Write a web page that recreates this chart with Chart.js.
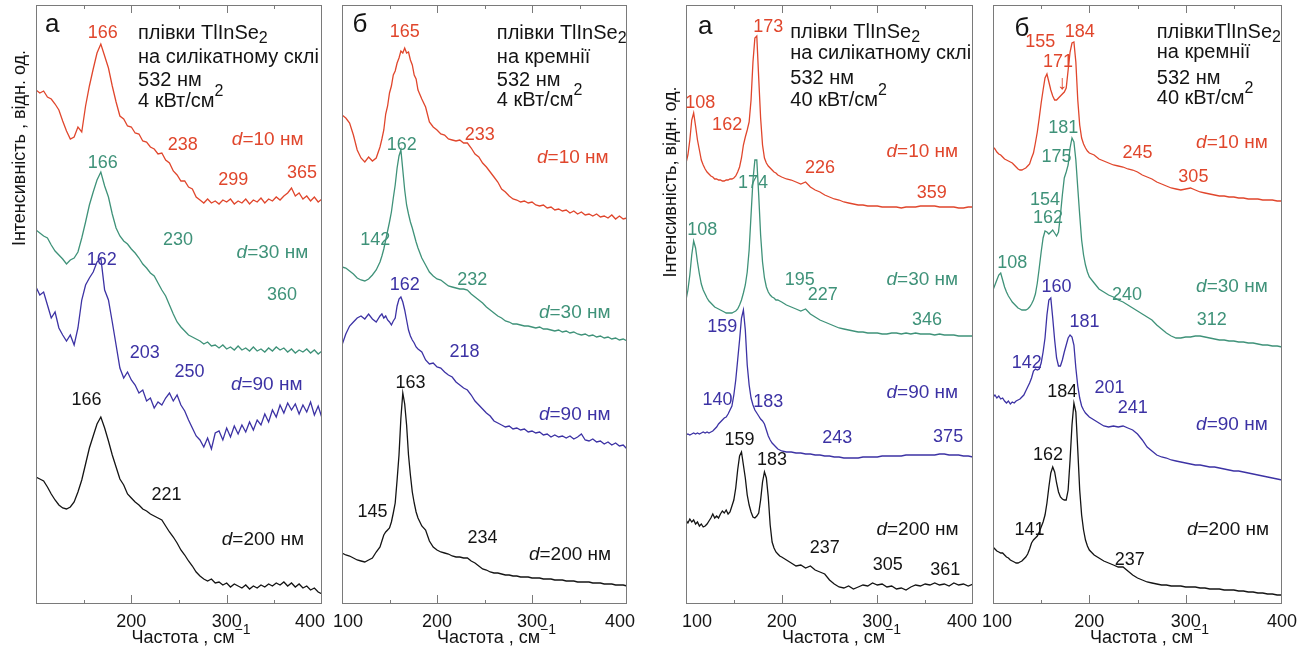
<!DOCTYPE html>
<html>
<head>
<meta charset="utf-8">
<script src="https://cdn.jsdelivr.net/npm/chart.js@4.4.1/dist/chart.umd.min.js"></script>
<style>
  html, body { margin: 0; padding: 0; background: #fff; overflow: hidden; }
  #wrap { position: relative; width: 1311px; height: 648px; }
  #wrap canvas { position: absolute; top: 0; }
</style>
</head>
<body>
<div id="wrap">
  <canvas id="p1" width="336" height="648" style="left:0px"></canvas>
  <canvas id="p2" width="315" height="648" style="left:325px"></canvas>
  <canvas id="p3" width="345" height="648" style="left:640px"></canvas>
  <canvas id="p4" width="336" height="648" style="left:975px"></canvas>
</div>
<script>
// Raman spectra of TlInSe2 films, four panels (arb. units)

// x grids, cm-1
const gridA = [100,104,108,112,116,120,124,128,132,136,140,144,148,152,156,160,164,168,172,176,180,184,188,192,196,200,204,208,212,216,220,224,228,232,236,240,244,248,252,256,260,264,268,272,276,280,284,288,292,296,300,304,308,312,316,320,324,328,332,336,340,344,348,352,356,360,364,368,372,376,380,384,388,392,396,400];
const gridB = [100,104,108,112,116,120,124,128,132,136,140,142,144,146,148,150,152,154,156,158,160,162,164,166,168,170,172,174,176,178,180,184,188,192,196,200,204,208,212,216,220,224,228,232,236,240,244,248,252,256,260,264,268,272,276,280,284,288,292,296,300,304,308,312,316,320,324,328,332,336,340,344,348,352,356,360,364,368,372,376,380,384,388,392,396,400];
const gridC = [100,102,104,106,108,110,112,114,116,118,120,122,124,126,128,130,132,134,136,138,140,142,144,146,148,150,152,154,156,158,160,162,164,166,168,170,172,174,176,178,180,182,184,186,188,190,192,194,196,198,200,205,210,215,220,225,230,235,240,245,250,255,260,265,270,275,280,285,290,295,300,305,310,315,320,325,330,335,340,345,350,355,360,365,370,375,380,385,390,395,400];

// panel а, 4 kW/cm2, glass
const p1_d10 = [514,511,513,507,505,500,494,483,473,465,467,477,472,498,518,535,551,560,548,536,518,502,488,485,478,477,471,470,463,462,457,455,450,451,444,441,433,429,423,423,417,415,407,404,401,405,401,403,400,404,402,405,400,403,401,405,400,404,402,406,401,405,403,407,404,408,411,416,408,411,405,408,403,407,402,405];
const p1_d30 = [374,371,368,366,359,353,349,345,340,344,346,352,366,382,399,412,424,432,418,407,390,376,368,363,360,355,351,346,340,336,331,328,321,314,308,299,290,282,277,273,269,267,265,263,260,262,258,259,256,259,255,257,254,258,254,256,253,257,253,255,252,256,253,257,254,256,252,255,251,254,252,255,251,254,250,253];
const p1_d90 = [317,309,312,299,286,292,276,269,263,269,259,276,304,319,326,332,342,346,314,304,282,259,236,226,232,224,219,211,214,203,206,196,202,199,206,211,203,209,199,193,184,176,168,164,157,166,155,171,173,164,176,167,178,170,179,172,182,174,184,179,190,182,194,187,199,191,201,194,200,190,199,192,202,189,198,186];
const p1_d200 = [127,125,123,117,110,104,99,96,95,97,102,112,124,140,156,168,180,187,176,163,149,137,125,119,110,106,102,99,95,93,90,88,86,84,78,72,67,61,54,49,43,38,32,28,25,23,25,21,22,19,21,17,20,18,16,19,15,18,16,19,17,20,18,21,19,22,18,21,17,20,16,18,14,16,12,10];

// panel б, 4 kW/cm2, silicon
const p2_d10 = [489,486,481,469,454,446,442,447,443,446,457,465,474,490,498,511,518,529,533,541,546,553,551,556,551,552,544,539,529,525,514,505,497,482,477,474,470,469,465,464,463,464,461,461,456,450,447,441,437,432,427,422,415,412,408,405,404,402,403,401,402,399,398,399,396,397,394,395,393,394,391,393,390,392,389,390,388,390,387,388,386,389,385,388,385,386];
const p2_d30 = [337,336,333,330,326,324,323,325,329,334,342,348,355,364,373,382,392,406,419,436,448,454,434,414,399,390,382,376,369,362,356,346,339,332,328,325,324,321,318,317,316,315,315,314,310,307,304,301,297,294,291,288,286,283,282,280,280,279,278,278,277,276,277,275,275,274,273,274,272,273,271,272,270,269,270,268,269,267,268,266,267,265,266,264,265,263];
const p2_d90 = [259,270,278,282,286,288,285,290,285,282,288,290,286,288,284,282,279,283,286,298,305,307,302,294,284,274,268,264,261,257,255,252,244,240,241,237,236,232,229,227,222,219,216,214,209,203,199,195,191,188,183,181,179,177,178,175,176,174,175,172,173,171,172,169,170,167,169,167,168,166,168,165,167,170,164,163,165,162,163,160,162,159,161,158,159,155];
const p2_d200 = [51,49,48,46,44,43,42,44,46,52,57,63,69,72,74,76,82,91,101,124,149,186,211,200,179,149,129,112,101,92,86,78,74,63,57,54,52,51,50,48,47,47,46,46,43,41,38,35,34,32,31,31,30,29,29,28,28,27,27,27,26,26,26,25,25,25,24,24,24,23,23,23,22,22,22,22,21,21,21,20,20,20,19,19,19,18];

// panel а, 40 kW/cm2, glass
const p3_d10 = [441,449,464,484,491,478,464,454,444,439,435,432,430,428,427,425,425,424,424,423,423,424,424,425,425,426,428,432,437,446,459,467,474,482,504,542,566,568,526,486,459,446,441,438,436,434,432,431,429,428,427,425,424,422,420,422,417,414,412,409,407,405,404,402,401,400,399,399,398,398,398,397,397,397,397,396,397,397,397,398,398,398,398,397,397,397,397,396,396,397,397];
const p3_d30 = [304,314,329,349,363,356,342,330,320,314,310,306,303,301,299,297,296,295,294,293,292,291,291,291,291,292,293,295,299,304,311,319,332,354,389,424,444,444,409,369,342,326,317,312,309,307,306,304,304,303,302,299,297,295,293,295,290,287,284,282,280,278,276,275,274,273,272,272,271,271,271,270,270,271,271,270,271,270,271,270,270,270,269,270,269,269,269,268,268,268,268];
const p3_d90 = [169,170,169,170,171,170,171,170,171,172,171,172,171,172,173,175,177,180,182,184,186,187,190,194,198,209,224,244,264,286,294,274,239,219,206,199,194,191,188,185,183,180,174,168,164,161,159,157,155,154,153,152,152,151,151,150,150,149,149,148,148,147,147,146,146,146,146,147,147,147,147,148,148,148,148,148,149,149,149,149,149,149,149,150,150,149,149,149,148,148,147];
const p3_d200 = [84,81,85,82,84,80,82,78,80,77,78,80,83,86,90,86,88,86,90,93,91,94,90,92,98,104,116,134,148,152,139,126,109,99,92,87,86,88,91,104,122,132,126,107,79,62,56,52,50,48,47,44,41,38,39,36,38,34,32,30,24,20,17,16,18,15,17,19,18,21,19,20,17,18,15,16,14,17,19,18,20,19,21,19,20,18,21,19,20,18,20];

// panel б, 40 kW/cm2, silicon
const p4_d10 = [457,455,452,450,449,447,445,444,443,442,441,439,437,435,434,434,435,436,438,440,446,451,461,472,486,501,514,526,530,522,514,508,504,504,506,508,510,512,516,534,552,561,562,542,504,479,466,460,456,453,451,449,445,443,441,439,438,437,435,434,432,429,427,425,422,420,418,416,415,414,415,416,414,412,411,410,409,408,408,407,407,406,406,405,405,405,404,404,404,403,403];
const p4_d30 = [314,319,324,329,331,324,317,312,308,305,302,300,298,296,295,294,294,294,295,297,300,304,310,321,336,352,366,373,372,370,372,374,371,368,372,389,409,426,432,439,456,466,462,444,416,389,364,349,339,332,327,321,315,312,309,307,304,302,299,296,293,290,287,284,279,275,271,268,266,266,267,267,268,268,267,266,265,264,264,263,263,262,262,261,261,260,259,259,258,258,257];
const p4_d90 = [207,209,206,208,205,206,203,201,203,200,202,201,203,204,205,207,209,213,217,221,226,233,235,234,235,241,252,266,289,304,306,286,264,246,238,238,244,252,259,266,269,267,259,236,218,206,198,194,191,189,187,184,181,178,177,178,177,178,176,174,170,164,157,153,149,147,146,144,143,142,141,140,139,139,138,137,137,136,135,134,133,133,132,131,130,129,128,127,126,125,124];
const p4_d200 = [57,55,53,52,51,51,49,47,46,44,43,42,41,41,42,43,45,47,50,55,61,64,66,68,72,77,82,89,101,117,131,137,132,121,112,107,105,104,104,114,144,179,201,192,154,114,89,74,64,58,54,49,46,43,41,39,37,37,33,29,26,24,22,21,20,19,19,18,18,18,17,17,17,16,16,15,15,15,14,14,14,13,13,12,12,11,11,10,10,9,9];

// peak labels: [text, x, y, colour, align, size]
const notes1 = [
  ['а', 117, 579, 'K', 'C', 26],
  ['166', 170, 571, 'R'],
  ['плівки TlInSe_2', 207, 571, 'K', 'L', 20],
  ['на силікатному склі', 207, 547, 'K', 'L', 20],
  ['532 нм', 207, 524, 'K', 'L', 20],
  ['4 кВт/см^2', 207, 503, 'K', 'L', 20],
  ['238', 254, 459, 'R'],
  ['*d*=10 нм', 343, 464, 'R', 'C', 19],
  ['299', 307, 424, 'R'],
  ['365', 379, 431, 'R'],
  ['166', 170, 441, 'G'],
  ['230', 249, 364, 'G'],
  ['*d*=30 нм', 348, 351, 'G', 'C', 19],
  ['360', 358, 309, 'G'],
  ['162', 169, 344, 'B'],
  ['203', 214, 251, 'B'],
  ['250', 261, 232, 'B'],
  ['*d*=90 нм', 342, 219, 'B', 'C', 19],
  ['166', 153, 204, 'K'],
  ['221', 237, 109, 'K'],
  ['*d*=200 нм', 338, 64, 'K', 'C', 19]
];
const notes2 = [
  ['б', 119, 579, 'K', 'C', 26],
  ['165', 166, 572, 'R'],
  ['плівки TlInSe_2', 263, 571, 'K', 'L', 20],
  ['на кремнії', 263, 547, 'K', 'L', 20],
  ['532 нм', 263, 524, 'K', 'L', 20],
  ['4 кВт/см^2', 263, 504, 'K', 'L', 20],
  ['233', 245, 469, 'R'],
  ['*d*=10 нм', 343, 446, 'R', 'C', 19],
  ['162', 163, 459, 'G'],
  ['142', 135, 364, 'G'],
  ['232', 237, 324, 'G'],
  ['*d*=30 нм', 345, 291, 'G', 'C', 19],
  ['162', 166, 319, 'B'],
  ['218', 229, 252, 'B'],
  ['*d*=90 нм', 345, 189, 'B', 'C', 19],
  ['163', 172, 221, 'K'],
  ['145', 132, 92, 'K'],
  ['234', 248, 66, 'K'],
  ['*d*=200 нм', 340, 49, 'K', 'C', 19]
];
const notes3 = [
  ['а', 120, 577, 'K', 'C', 26],
  ['173', 186, 577, 'R'],
  ['плівки TlInSe_2', 209, 572, 'K', 'L', 20],
  ['на силікатному склі', 209, 551, 'K', 'L', 20],
  ['532 нм', 209, 526, 'K', 'L', 20],
  ['40 кВт/см^2', 209, 504, 'K', 'L', 20],
  ['108', 115, 501, 'R'],
  ['162', 143, 479, 'R'],
  ['*d*=10 нм', 347, 452, 'R', 'C', 19],
  ['226', 240, 436, 'R'],
  ['359', 357, 411, 'R'],
  ['174', 170, 421, 'G'],
  ['108', 117, 374, 'G'],
  ['195', 219, 324, 'G'],
  ['*d*=30 нм', 347, 324, 'G', 'C', 19],
  ['227', 243, 309, 'G'],
  ['346', 352, 284, 'G'],
  ['159', 138, 277, 'B'],
  ['140', 133, 204, 'B'],
  ['183', 186, 202, 'B'],
  ['*d*=90 нм', 347, 211, 'B', 'C', 19],
  ['243', 258, 166, 'B'],
  ['375', 374, 167, 'B'],
  ['159', 156, 164, 'K'],
  ['183', 190, 144, 'K'],
  ['*d*=200 нм', 342, 74, 'K', 'C', 19],
  ['237', 245, 56, 'K'],
  ['305', 311, 39, 'K'],
  ['361', 371, 34, 'K']
];
const notes4 = [
  ['б', 130, 575, 'K', 'C', 26],
  ['155', 149, 562, 'R'],
  ['184', 190, 572, 'R'],
  ['171', 167.5, 542, 'R'],
  ['↓', 171.6, 521, 'R', 'C', 20],
  ['плівкиTlInSe_2', 270, 572, 'K', 'L', 20],
  ['на кремнії', 270, 552, 'K', 'L', 20],
  ['532 нм', 270, 526, 'K', 'L', 20],
  ['40 кВт/см^2', 270, 506, 'K', 'L', 20],
  ['181', 173, 476, 'G'],
  ['*d*=10 нм', 348, 461, 'R', 'C', 19],
  ['175', 166, 447, 'G'],
  ['245', 250, 451, 'R'],
  ['305', 308, 427, 'R'],
  ['154', 154, 404, 'G'],
  ['162', 157, 386, 'G'],
  ['108', 120, 341, 'G'],
  ['*d*=30 нм', 348, 317, 'G', 'C', 19],
  ['240', 239, 309, 'G'],
  ['312', 327, 284, 'G'],
  ['160', 166, 317, 'B'],
  ['181', 195, 282, 'B'],
  ['142', 135, 241, 'B'],
  ['201', 221, 216, 'B'],
  ['241', 245, 196, 'B'],
  ['*d*=90 нм', 348, 179, 'B', 'C', 19],
  ['184', 172, 212, 'K'],
  ['162', 157, 149, 'K'],
  ['141', 138, 74, 'K'],
  ['*d*=200 нм', 344, 74, 'K', 'C', 19],
  ['237', 242, 44, 'K']
];

const COL = { R: '#e0462c', G: '#3f9279', B: '#3c32a4', K: '#141414' };
const FONT = '"Liberation Sans", Arial, sans-serif';

// tiny rich text: *italic*, _sub, ^sup (sub/sup run to next space)
function parseRich(s){
  const out = []; let it = false, buf = '';
  const push = (t, mode) => { if (t) out.push({ t, it, mode }); };
  for (let i = 0; i < s.length; i++){
    const c = s[i];
    if (c === '*'){ push(buf, 0); buf = ''; it = !it; }
    else if (c === '_' || c === '^'){
      push(buf, 0); buf = '';
      let j = i + 1, t = '';
      while (j < s.length && s[j] !== ' ') t += s[j++];
      push(t, c === '_' ? 1 : -1); i = j - 1;
    }
    else buf += c;
  }
  push(buf, 0);
  return out;
}
function drawRich(ctx, s, x, y, size, color, align){
  const segs = parseRich(s);
  const fontOf = g => (g.it ? 'italic ' : '') + Math.round(g.mode ? size * 0.8 : size) + 'px ' + FONT;
  let w = 0;
  segs.forEach(g => { ctx.font = fontOf(g); g.w = ctx.measureText(g.t).width; w += g.w; });
  let cx = align === 'L' ? x : x - w / 2;
  ctx.fillStyle = color; ctx.textBaseline = 'middle'; ctx.textAlign = 'left';
  segs.forEach(g => {
    ctx.font = fontOf(g);
    const dy = g.mode === 1 ? size * 0.3 : g.mode === -1 ? -size * 0.45 : 0;
    ctx.fillText(g.t, cx, y + dy);
    cx += g.w;
  });
}

// frame, inward ticks, tick numbers, axis titles, peak labels
const decor = {
  id: 'decor',
  afterDraw(chart, args, o){
    const { ctx, chartArea: a, scales: { x, y } } = chart;
    ctx.save();
    ctx.strokeStyle = '#7a7a7a'; ctx.lineWidth = 1;
    ctx.strokeRect(Math.round(a.left) + 0.5, Math.round(a.top) + 0.5, Math.round(a.right - a.left) - 1, Math.round(a.bottom - a.top) - 1);
    ctx.beginPath();
    [150, 200, 250, 300, 350].forEach(v => {
      const px = Math.round(x.getPixelForValue(v)) + 0.5;
      const big = v % 100 === 0;
      ctx.moveTo(px, a.top); ctx.lineTo(px, a.top + (big ? 8 : 4));
      ctx.moveTo(px, a.bottom); ctx.lineTo(px, a.bottom - (big ? 9 : 4));
    });
    ctx.stroke();

    o.tickLabels.forEach((v, i) => {
      const px = x.getPixelForValue(v) + (o.tickShift[i] || 0);
      drawRich(ctx, String(v), px, a.bottom + 18, 18, '#141414', 'C');
    });
    drawRich(ctx, 'Частота , см^−1', (a.left + a.right) / 2 + 12, a.bottom + 34, 18, '#141414', 'C');

    if (o.yTitle){
      ctx.save();
      ctx.translate(o.yTitle[1], o.yTitle[2]);
      ctx.rotate(-Math.PI / 2);
      drawRich(ctx, o.yTitle[0], 0, 0, 18, '#141414', 'C');
      ctx.restore();
    }

    o.notes.forEach(n => {
      const [t, xv, yv, c, al, sz] = n;
      drawRich(ctx, t, x.getPixelForValue(xv), y.getPixelForValue(yv), sz || 18, COL[c], al || 'C');
    });
    ctx.restore();
  }
};

function series(grid, vals, color){
  return {
    data: grid.map((xv, i) => ({ x: xv, y: vals[i] })),
    borderColor: color, borderWidth: 1.3, pointRadius: 0, tension: 0, fill: false
  };
}

function panel(id, grid, curves, pad, deco){
  new Chart(document.getElementById(id), {
    type: 'line',
    data: { datasets: [
      series(grid, curves[0], COL.R),
      series(grid, curves[1], COL.G),
      series(grid, curves[2], COL.B),
      series(grid, curves[3], COL.K)
    ] },
    options: {
      responsive: false, animation: false, devicePixelRatio: 1,
      layout: { padding: { left: pad[0], right: pad[1], top: 5, bottom: 44 } },
      plugins: { legend: { display: false }, tooltip: { enabled: false }, decor: deco },
      scales: {
        x: { type: 'linear', min: 100, max: 400, display: false },
        y: { min: 0, max: 599, display: false }
      }
    },
    plugins: [decor]
  });
}

panel('p1', gridA, [p1_d10, p1_d30, p1_d90, p1_d200], [36, 14], {
  notes: notes1, tickLabels: [200, 300, 400], tickShift: [0, 0, -12],
  yTitle: ['Інтенсивність , відн. од.', 20, 148]
});
panel('p2', gridB, [p2_d10, p2_d30, p2_d90, p2_d200], [17, 13], {
  notes: notes2, tickLabels: [100, 200, 300, 400], tickShift: [6, 0, 0, -7]
});
panel('p3', gridC, [p3_d10, p3_d30, p3_d90, p3_d200], [46, 12], {
  notes: notes3, tickLabels: [100, 200, 300, 400], tickShift: [11, 0, 0, -11],
  yTitle: ['Інтенсивність, відн. од.', 31, 182]
});
panel('p4', gridC, [p4_d10, p4_d30, p4_d90, p4_d200], [18, 29], {
  notes: notes4, tickLabels: [100, 200, 300, 400], tickShift: [4, 0, 0, 0]
});
</script>
</body>
</html>
